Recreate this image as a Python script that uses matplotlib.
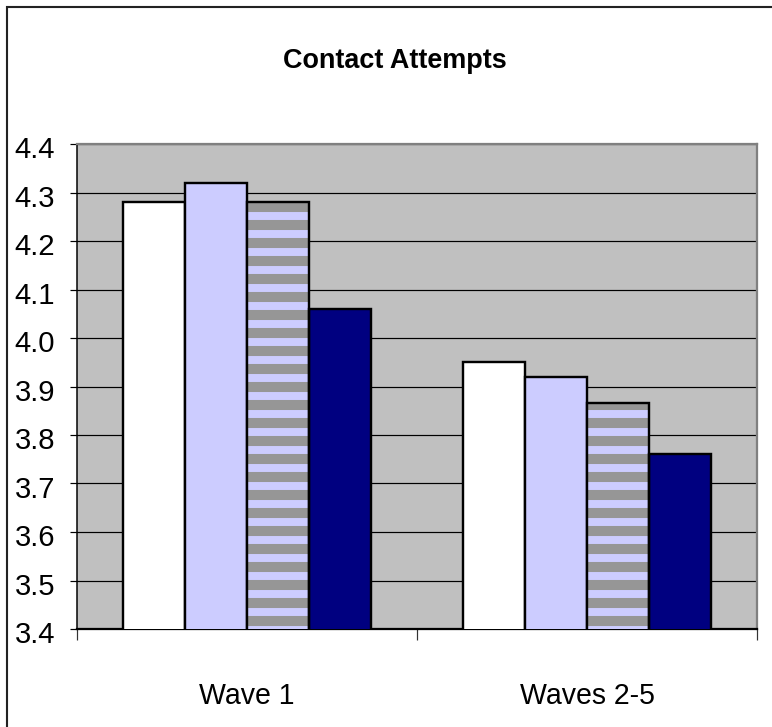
import matplotlib
matplotlib.use('Agg')
from matplotlib import pyplot as plt
from matplotlib.patches import Rectangle
from matplotlib.ticker import FixedLocator
from matplotlib.transforms import ScaledTranslation
import numpy as np


# Mean number of contact attempts, four series per wave group
categories = ['Wave 1', 'Waves 2-5']
series_1 = [4.28, 3.95]
series_2 = [4.32, 3.92]
series_3 = [4.28, 3.865]
series_4 = [4.06, 3.76]

y_ticks = [3.4, 3.5, 3.6, 3.7, 3.8, 3.9, 4.0, 4.1, 4.2, 4.3, 4.4]

FONT = ['Liberation Sans Narrow', 'Liberation Sans', 'DejaVu Sans']
LAVENDER = '#CCCCFF'
STRIPE = '#969696'
NAVY = '#000080'
PLOT_BG = '#C0C0C0'


def draw_chart(saving_path):

	plt.rcParams['font.family'] = FONT
	plt.rcParams['hatch.linewidth'] = 6.7

	dpi = 108
	fig = plt.figure(figsize=(772 / dpi, 727 / dpi), dpi=dpi)
	ax = fig.add_axes([77 / 772, 1 - 629 / 727, 680 / 772, 485 / 727])
	ax.set_facecolor(PLOT_BG)

	x = np.arange(len(categories))
	width = 0.183
	offsets = np.array([-1.5, -0.5, 0.5, 1.5]) * width

	ax.bar(x + offsets[0], series_1, width, color='white', edgecolor='black', linewidth=1.6, zorder=3)
	ax.bar(x + offsets[1], series_2, width, color=LAVENDER, edgecolor='black', linewidth=1.6, zorder=3)
	# striped series: hatch first, then the black outline on top
	ax.bar(x + offsets[2], series_3, width, color=LAVENDER, edgecolor=STRIPE, linewidth=0, hatch='-', zorder=3)
	ax.bar(x + offsets[2], series_3, width, fill=False, edgecolor='black', linewidth=1.6, zorder=4)
	ax.bar(x + offsets[3], series_4, width, color=NAVY, edgecolor='black', linewidth=1.6, zorder=3)

	ax.set_xlim(-0.5, len(categories) - 0.5)
	ax.set_ylim(y_ticks[0], y_ticks[-1])

	ax.set_yticks(y_ticks)
	ax.set_yticklabels(['{:.1f}'.format(v) for v in y_ticks], fontsize=19.5)
	ax.yaxis.grid(True, color='black', linewidth=0.8)
	ax.set_axisbelow(True)
	ax.tick_params(axis='y', length=4.7, width=0.8, pad=10, color='black')
	shift = ScaledTranslation(0, -3 / dpi, fig.dpi_scale_trans)
	for label in ax.get_yticklabels():
		label.set_transform(label.get_transform() + shift)

	ax.set_xticks(x)
	ax.set_xticklabels(categories, fontsize=19)
	ax.tick_params(axis='x', which='major', length=0, pad=35)
	ax.xaxis.set_minor_locator(FixedLocator(np.arange(-0.5, len(categories), 1.0)))
	ax.tick_params(axis='x', which='minor', length=7.3, width=0.8, color='#333333')

	for side in ['top', 'right']:
		ax.spines[side].set_color('#808080')
		ax.spines[side].set_linewidth(1.5)
	ax.spines['left'].set_color('black')
	ax.spines['left'].set_linewidth(1.0)
	ax.spines['bottom'].set_color('black')
	ax.spines['bottom'].set_linewidth(1.5)

	fig.text(395 / 772, 1 - 68 / 727, 'Contact Attempts', ha='center', va='baseline',
			fontsize=18, fontweight='bold')

	# outer chart frame
	fig.patches.append(Rectangle((7 / 772, -0.1), 1.2, 1 - 7 / 727 + 0.1, transform=fig.transFigure,
								fill=False, edgecolor='#222222', linewidth=1.4))

	fig.savefig(saving_path, dpi=dpi)


if __name__ == '__main__':
	draw_chart('out.png')
